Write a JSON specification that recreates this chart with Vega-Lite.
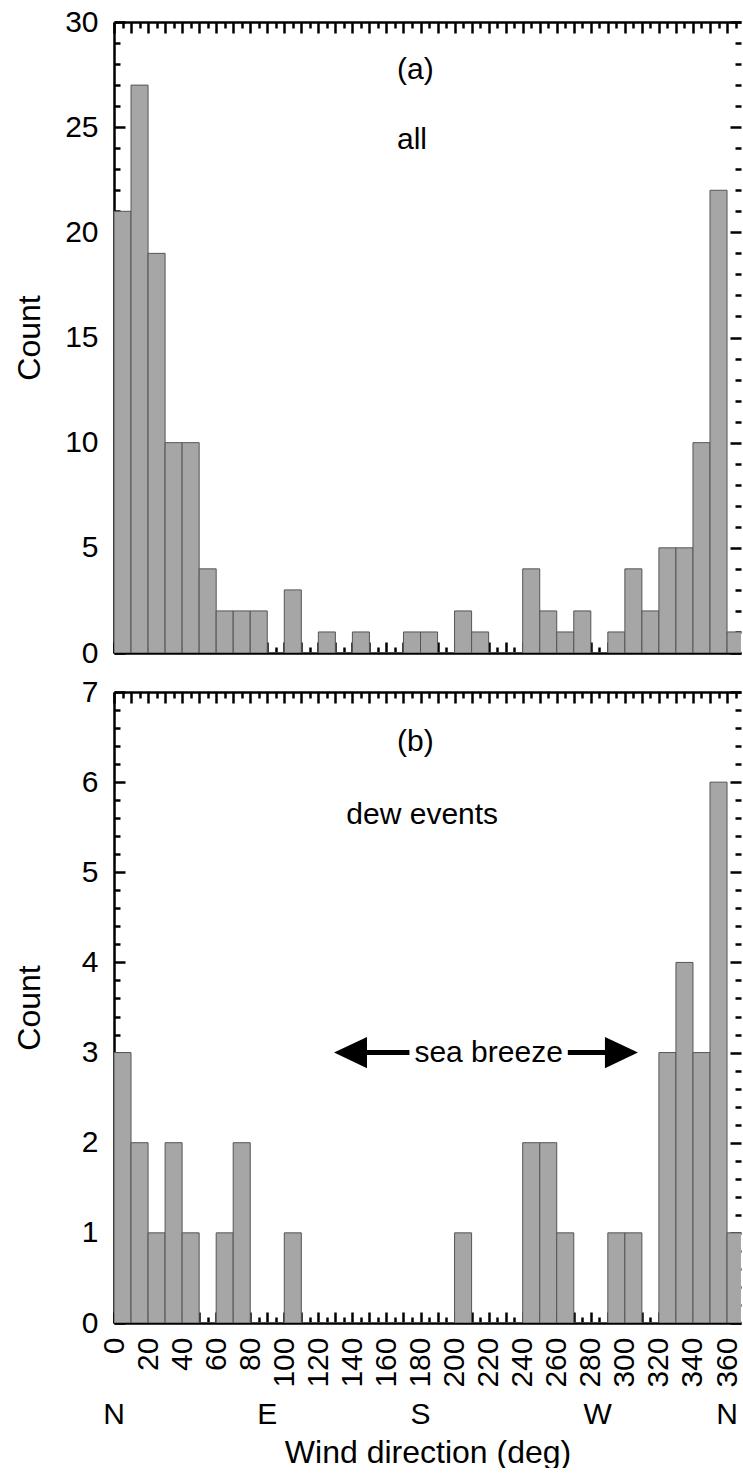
{
  "$schema": "https://vega.github.io/schema/vega-lite/v6.json",
  "background": "white",
  "padding": {"left": 13, "top": 7, "right": 0, "bottom": 0},
  "config": {
    "view": {"stroke": null},
    "font": "Liberation Sans",
    "axis": {
      "labelFont": "Liberation Sans",
      "titleFont": "Liberation Sans",
      "labelColor": "black",
      "titleColor": "black",
      "domainColor": "black",
      "tickColor": "black",
      "domainWidth": 2.5,
      "tickWidth": 2.5,
      "grid": false,
      "titleFontWeight": "normal",
      "labelFontSize": 30,
      "titleFontSize": 32,
      "labelOverlap": false,
      "labelFlush": false
    },
    "text": {"font": "Liberation Sans", "fontSize": 30, "color": "black"}
  },
  "datasets": {
    "hist": [
      {"dir": 0, "dir_end": 10, "all": 21, "dew": 3},
      {"dir": 10, "dir_end": 20, "all": 27, "dew": 2},
      {"dir": 20, "dir_end": 30, "all": 19, "dew": 1},
      {"dir": 30, "dir_end": 40, "all": 10, "dew": 2},
      {"dir": 40, "dir_end": 50, "all": 10, "dew": 1},
      {"dir": 50, "dir_end": 60, "all": 4, "dew": 0},
      {"dir": 60, "dir_end": 70, "all": 2, "dew": 1},
      {"dir": 70, "dir_end": 80, "all": 2, "dew": 2},
      {"dir": 80, "dir_end": 90, "all": 2, "dew": 0},
      {"dir": 90, "dir_end": 100, "all": 0, "dew": 0},
      {"dir": 100, "dir_end": 110, "all": 3, "dew": 1},
      {"dir": 110, "dir_end": 120, "all": 0, "dew": 0},
      {"dir": 120, "dir_end": 130, "all": 1, "dew": 0},
      {"dir": 130, "dir_end": 140, "all": 0, "dew": 0},
      {"dir": 140, "dir_end": 150, "all": 1, "dew": 0},
      {"dir": 150, "dir_end": 160, "all": 0, "dew": 0},
      {"dir": 160, "dir_end": 170, "all": 0, "dew": 0},
      {"dir": 170, "dir_end": 180, "all": 1, "dew": 0},
      {"dir": 180, "dir_end": 190, "all": 1, "dew": 0},
      {"dir": 190, "dir_end": 200, "all": 0, "dew": 0},
      {"dir": 200, "dir_end": 210, "all": 2, "dew": 1},
      {"dir": 210, "dir_end": 220, "all": 1, "dew": 0},
      {"dir": 220, "dir_end": 230, "all": 0, "dew": 0},
      {"dir": 230, "dir_end": 240, "all": 0, "dew": 0},
      {"dir": 240, "dir_end": 250, "all": 4, "dew": 2},
      {"dir": 250, "dir_end": 260, "all": 2, "dew": 2},
      {"dir": 260, "dir_end": 270, "all": 1, "dew": 1},
      {"dir": 270, "dir_end": 280, "all": 2, "dew": 0},
      {"dir": 280, "dir_end": 290, "all": 0, "dew": 0},
      {"dir": 290, "dir_end": 300, "all": 1, "dew": 1},
      {"dir": 300, "dir_end": 310, "all": 4, "dew": 1},
      {"dir": 310, "dir_end": 320, "all": 2, "dew": 0},
      {"dir": 320, "dir_end": 330, "all": 5, "dew": 3},
      {"dir": 330, "dir_end": 340, "all": 5, "dew": 4},
      {"dir": 340, "dir_end": 350, "all": 10, "dew": 3},
      {"dir": 350, "dir_end": 360, "all": 22, "dew": 6},
      {"dir": 360, "dir_end": 370, "all": 1, "dew": 1}
    ],
    "compass": [
      {"deg": 0, "point": "N"},
      {"deg": 90, "point": "E"},
      {"deg": 180, "point": "S"},
      {"deg": 270, "point": "W"},
      {"deg": 360, "point": "N"}
    ],
    "one": [{}]
  },
  "bounds": "flush",
  "spacing": 39,
  "vconcat": [
    {
      "width": 627,
      "height": 631,
      "layer": [
        {
          "data": {"name": "hist"},
          "mark": {"type": "bar", "fill": "#a6a6a6", "stroke": "#555555", "strokeWidth": 1, "clip": true},
          "encoding": {
            "x": {
              "field": "dir", "type": "quantitative",
              "scale": {"domain": [0, 368.2], "nice": false, "zero": false},
              "axis": {
                "orient": "bottom",
                "values": [0,5,10,15,20,25,30,35,40,45,50,55,60,65,70,75,80,85,90,95,100,105,110,115,120,125,130,135,140,145,150,155,160,165,170,175,180,185,190,195,200,205,210,215,220,225,230,235,240,245,250,255,260,265,270,275,280,285,290,295,300,305,310,315,320,325,330,335,340,345,350,355,360,365],
                "labels": false, "title": null,
                "tickSize": {"condition": {"test": "datum.value % 10 === 0", "value": -11}, "value": -6}
              }
            },
            "x2": {"field": "dir_end"},
            "y": {
              "field": "all", "type": "quantitative",
              "scale": {"domain": [0, 30], "nice": false},
              "axis": {
                "orient": "left",
                "values": [0,1,2,3,4,5,6,7,8,9,10,11,12,13,14,15,16,17,18,19,20,21,22,23,24,25,26,27,28,29,30],
                "labelExpr": "datum.value % 5 === 0 ? format(datum.value, 'd') : ''",
                "labelPadding": 27,
                "tickSize": {"condition": {"test": "datum.value % 5 === 0", "value": -11}, "value": -6},
                "title": "Count", "titleX": -85, "titleBaseline": "middle"
              }
            },
            "y2": {"datum": 0}
          }
        },
        {
          "data": {"name": "one"},
          "mark": {"type": "text", "text": "(a)"},
          "encoding": {
            "x": {
              "datum": 177, "type": "quantitative",
              "scale": {"domain": [0, 368.2], "nice": false, "zero": false},
              "axis": {
                "orient": "top",
                "values": [0,5,10,15,20,25,30,35,40,45,50,55,60,65,70,75,80,85,90,95,100,105,110,115,120,125,130,135,140,145,150,155,160,165,170,175,180,185,190,195,200,205,210,215,220,225,230,235,240,245,250,255,260,265,270,275,280,285,290,295,300,305,310,315,320,325,330,335,340,345,350,355,360,365],
                "labels": false, "title": null,
                "tickSize": {"condition": {"test": "datum.value % 10 === 0", "value": -11}, "value": -6}
              }
            },
            "y": {
              "datum": 27.7, "type": "quantitative",
              "scale": {"domain": [0, 30], "nice": false},
              "axis": {
                "orient": "right",
                "values": [0,1,2,3,4,5,6,7,8,9,10,11,12,13,14,15,16,17,18,19,20,21,22,23,24,25,26,27,28,29,30],
                "labels": false, "title": null, "domain": false,
                "tickSize": {"condition": {"test": "datum.value % 5 === 0", "value": -11}, "value": -6}
              }
            }
          }
        },
        {
          "data": {"name": "one"},
          "mark": {"type": "text", "text": "all"},
          "encoding": {
            "x": {"datum": 175, "type": "quantitative", "scale": {"domain": [0, 368.2], "nice": false, "zero": false}, "axis": null},
            "y": {"datum": 24.4, "type": "quantitative", "scale": {"domain": [0, 30], "nice": false}, "axis": null}
          }
        }
      ],
      "resolve": {"axis": {"x": "independent", "y": "independent"}}
    },
    {
      "width": 627,
      "height": 631,
      "layer": [
        {
          "data": {"name": "hist"},
          "mark": {"type": "bar", "fill": "#a6a6a6", "stroke": "#555555", "strokeWidth": 1, "clip": true},
          "encoding": {
            "x": {
              "field": "dir", "type": "quantitative",
              "scale": {"domain": [0, 368.2], "nice": false, "zero": false},
              "axis": {
                "orient": "bottom",
                "values": [0,5,10,15,20,25,30,35,40,45,50,55,60,65,70,75,80,85,90,95,100,105,110,115,120,125,130,135,140,145,150,155,160,165,170,175,180,185,190,195,200,205,210,215,220,225,230,235,240,245,250,255,260,265,270,275,280,285,290,295,300,305,310,315,320,325,330,335,340,345,350,355,360,365],
                "labelExpr": "datum.value % 20 === 0 && datum.value <= 360 ? format(datum.value, 'd') : ''",
                "labelAngle": -90,
                "labelPadding": 25,
                "tickSize": {"condition": {"test": "datum.value % 10 === 0", "value": -11}, "value": -6},
                "title": "Wind direction (deg)",
                "titleY": 114,
                "titleBaseline": "top"
              }
            },
            "x2": {"field": "dir_end"},
            "y": {
              "field": "dew", "type": "quantitative",
              "scale": {"domain": [0, 7], "nice": false},
              "axis": {
                "orient": "left",
                "values": [0,0.2,0.4,0.6,0.8,1,1.2,1.4,1.6,1.8,2,2.2,2.4,2.6,2.8,3,3.2,3.4,3.6,3.8,4,4.2,4.4,4.6,4.8,5,5.2,5.4,5.6,5.8,6,6.2,6.4,6.6,6.8,7],
                "labelExpr": "datum.value % 1 === 0 ? format(datum.value, 'd') : ''",
                "labelPadding": 27,
                "tickSize": {"condition": {"test": "datum.value % 1 === 0", "value": -11}, "value": -6},
                "title": "Count", "titleX": -85, "titleBaseline": "middle"
              }
            },
            "y2": {"datum": 0}
          }
        },
        {
          "data": {"name": "one"},
          "mark": {"type": "text", "text": "(b)"},
          "encoding": {
            "x": {
              "datum": 177, "type": "quantitative",
              "scale": {"domain": [0, 368.2], "nice": false, "zero": false},
              "axis": {
                "orient": "top",
                "values": [0,5,10,15,20,25,30,35,40,45,50,55,60,65,70,75,80,85,90,95,100,105,110,115,120,125,130,135,140,145,150,155,160,165,170,175,180,185,190,195,200,205,210,215,220,225,230,235,240,245,250,255,260,265,270,275,280,285,290,295,300,305,310,315,320,325,330,335,340,345,350,355,360,365],
                "labels": false, "title": null,
                "tickSize": {"condition": {"test": "datum.value % 10 === 0", "value": -11}, "value": -6}
              }
            },
            "y": {
              "datum": 6.44, "type": "quantitative",
              "scale": {"domain": [0, 7], "nice": false},
              "axis": {
                "orient": "right",
                "values": [0,0.2,0.4,0.6,0.8,1,1.2,1.4,1.6,1.8,2,2.2,2.4,2.6,2.8,3,3.2,3.4,3.6,3.8,4,4.2,4.4,4.6,4.8,5,5.2,5.4,5.6,5.8,6,6.2,6.4,6.6,6.8,7],
                "labels": false, "title": null, "domain": false,
                "tickSize": {"condition": {"test": "datum.value % 1 === 0", "value": -11}, "value": -6}
              }
            }
          }
        },
        {
          "data": {"name": "one"},
          "mark": {"type": "text", "text": "dew events"},
          "encoding": {
            "x": {"datum": 181, "type": "quantitative", "scale": {"domain": [0, 368.2], "nice": false, "zero": false}, "axis": null},
            "y": {"datum": 5.64, "type": "quantitative", "scale": {"domain": [0, 7], "nice": false}, "axis": null}
          }
        },
        {
          "data": {"name": "one"},
          "mark": {"type": "text", "text": "sea breeze"},
          "encoding": {
            "x": {"datum": 220, "type": "quantitative", "scale": {"domain": [0, 368.2], "nice": false, "zero": false}, "axis": null},
            "y": {"datum": 3, "type": "quantitative", "scale": {"domain": [0, 7], "nice": false}, "axis": null}
          }
        },
        {
          "data": {"name": "one"},
          "mark": {"type": "rule", "color": "black", "strokeWidth": 5},
          "encoding": {
            "x": {"datum": 145, "type": "quantitative", "scale": {"domain": [0, 368.2], "nice": false, "zero": false}, "axis": null},
            "x2": {"datum": 173.5},
            "y": {"datum": 3, "type": "quantitative", "scale": {"domain": [0, 7], "nice": false}, "axis": null}
          }
        },
        {
          "data": {"name": "one"},
          "mark": {"type": "rule", "color": "black", "strokeWidth": 5},
          "encoding": {
            "x": {"datum": 266.5, "type": "quantitative", "scale": {"domain": [0, 368.2], "nice": false, "zero": false}, "axis": null},
            "x2": {"datum": 292},
            "y": {"datum": 3, "type": "quantitative", "scale": {"domain": [0, 7], "nice": false}, "axis": null}
          }
        },
        {
          "data": {"name": "one"},
          "mark": {"type": "point", "shape": "M -1 0 L 1 -0.95 L 1 0.95 Z", "size": 1089, "filled": true, "color": "black", "opacity": 1},
          "encoding": {
            "x": {"datum": 138.9, "type": "quantitative", "scale": {"domain": [0, 368.2], "nice": false, "zero": false}, "axis": null},
            "y": {"datum": 3, "type": "quantitative", "scale": {"domain": [0, 7], "nice": false}, "axis": null}
          }
        },
        {
          "data": {"name": "one"},
          "mark": {"type": "point", "shape": "M 1 0 L -1 -0.95 L -1 0.95 Z", "size": 1089, "filled": true, "color": "black", "opacity": 1},
          "encoding": {
            "x": {"datum": 298, "type": "quantitative", "scale": {"domain": [0, 368.2], "nice": false, "zero": false}, "axis": null},
            "y": {"datum": 3, "type": "quantitative", "scale": {"domain": [0, 7], "nice": false}, "axis": null}
          }
        },
        {
          "data": {"name": "compass"},
          "transform": [{"filter": "datum.point !== 'W'"}],
          "mark": {"type": "text"},
          "encoding": {
            "x": {"field": "deg", "type": "quantitative", "scale": {"domain": [0, 368.2], "nice": false, "zero": false}, "axis": null},
            "y": {"datum": -1.02, "type": "quantitative", "scale": {"domain": [0, 7], "nice": false}, "axis": null},
            "text": {"field": "point"}
          }
        },
        {
          "data": {"name": "compass"},
          "transform": [{"filter": "datum.point === 'W'"}],
          "mark": {"type": "text", "dx": 24},
          "encoding": {
            "x": {"field": "deg", "type": "quantitative", "scale": {"domain": [0, 368.2], "nice": false, "zero": false}, "axis": null},
            "y": {"datum": -1.02, "type": "quantitative", "scale": {"domain": [0, 7], "nice": false}, "axis": null},
            "text": {"field": "point"}
          }
        }
      ],
      "resolve": {"axis": {"x": "independent", "y": "independent"}}
    }
  ]
}
